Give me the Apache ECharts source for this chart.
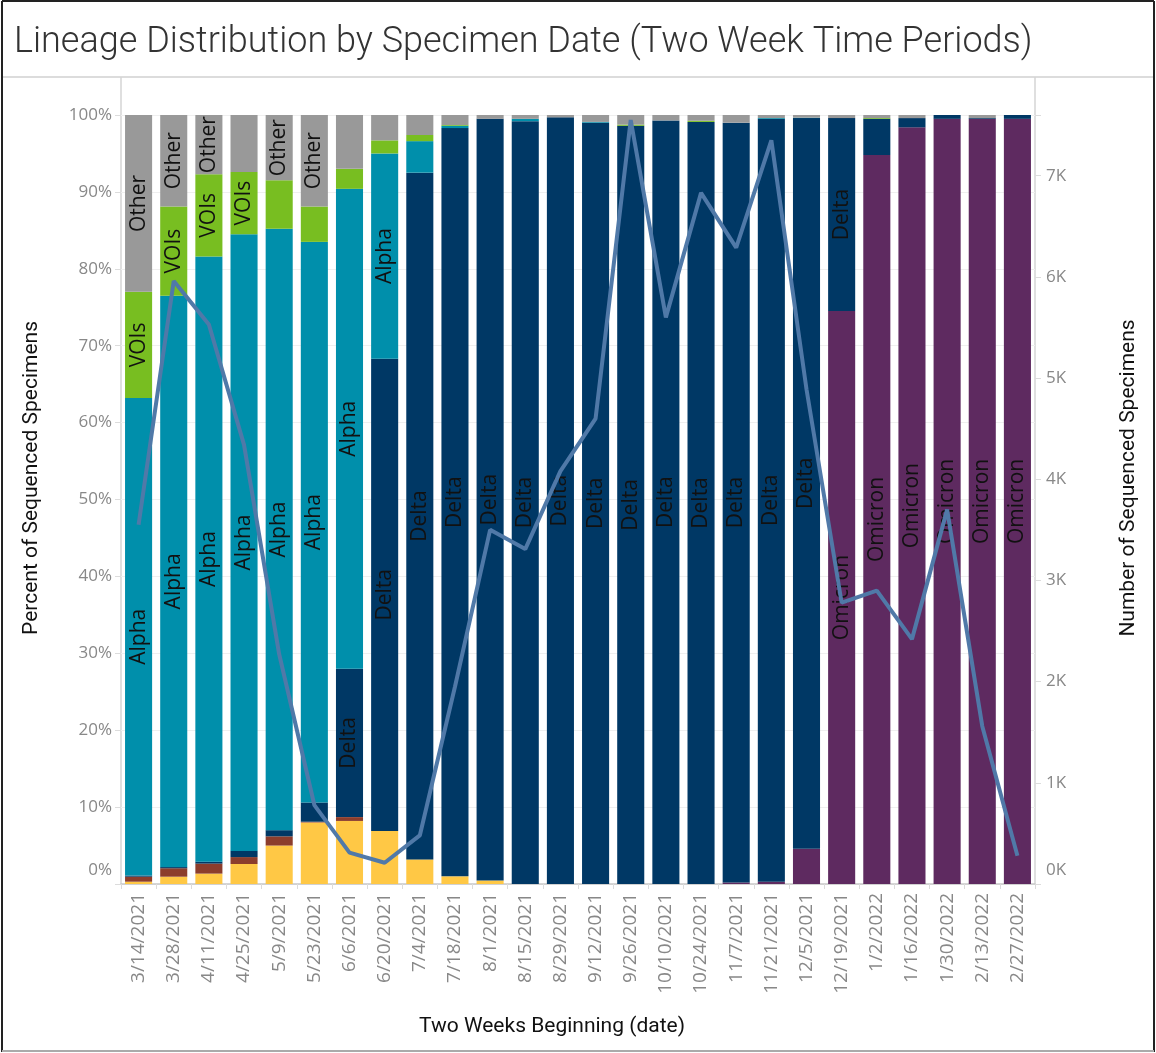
<!DOCTYPE html>
<html>
<head>
<meta charset="utf-8">
<script src="https://cdn.jsdelivr.net/npm/echarts@6/dist/echarts.min.js"></script>
<style>
  html, body { margin: 0; padding: 0; background: #fff; }
  #chart { width: 1156px; height: 1053px; }
</style>
</head>
<body>
<div id="chart"></div>
<script>
// Two-week periods (start date)
const dates = ['3/14/2021','3/28/2021','4/11/2021','4/25/2021','5/9/2021','5/23/2021','6/6/2021','6/20/2021',
  '7/4/2021','7/18/2021','8/1/2021','8/15/2021','8/29/2021','9/12/2021','9/26/2021','10/10/2021','10/24/2021',
  '11/7/2021','11/21/2021','12/5/2021','12/19/2021','1/2/2022','1/16/2022','1/30/2022','2/13/2022','2/27/2022'];

// Share of sequenced specimens by lineage (%), stacked bottom to top
const omicron = [0,0,0,0,0,0,0,0,0,0,0,0,0,0,0,0,0,0.2,0.3,4.6,74.5,94.8,98.4,99.5,99.5,99.5];
const gamma   = [0.3,0.95,1.35,2.6,5.0,8.0,8.2,6.9,3.2,1.0,0.45,0,0,0,0,0,0,0,0,0,0,0,0,0,0,0];
const beta    = [0.65,1.1,1.3,0.9,1.2,0.1,0.5,0,0,0,0,0,0,0,0,0,0,0,0,0,0,0,0,0,0,0];
const delta   = [0.15,0.15,0.25,0.8,0.8,2.5,19.3,61.4,89.3,97.3,99.05,99.2,99.7,99.0,98.6,99.3,99.1,98.8,99.2,95.0,25.1,4.7,1.2,0.5,0.1,0.5];
const alpha   = [62.1,74.3,78.7,80.2,78.2,72.9,62.4,26.7,4.1,0.3,0,0.3,0,0.1,0,0,0,0,0.1,0.05,0,0,0,0,0,0];
const vois    = [13.8,11.6,10.7,8.1,6.3,4.6,2.6,1.7,0.8,0.1,0,0,0,0,0.15,0,0.15,0,0,0,0,0.1,0,0,0,0];
const other   = [23.0,11.9,7.7,7.4,8.5,11.9,7.0,3.3,2.6,1.3,0.5,0.5,0.3,0.9,1.25,0.7,0.75,1.0,0.4,0.35,0.4,0.4,0.4,0,0.4,0];

// Number of sequenced specimens per period
const specimenCount = [3550,5960,5530,4340,2270,780,310,210,480,1950,3500,3310,4080,4600,7550,5600,6830,6290,7350,4890,2780,2900,2420,3700,1560,280];

// Axis ticks
const pctTicks = [0,10,20,30,40,50,60,70,80,90,100];
const countTicks = [0,1000,2000,3000,4000,5000,6000,7000];

// labelled: whether the lineage name is written inside its segments
const lineages = [
  { name: 'Omicron', data: omicron, color: '#5e2a60', labelled: true },
  { name: 'Gamma',   data: gamma,   color: '#ffc845', labelled: false },
  { name: 'Beta',    data: beta,    color: '#8c3d2c', labelled: false },
  { name: 'Delta',   data: delta,   color: '#003865', labelled: true },
  { name: 'Alpha',   data: alpha,   color: '#008fab', labelled: true },
  { name: 'VOIs',    data: vois,    color: '#78be21', labelled: true },
  { name: 'Other',   data: other,   color: '#999999', labelled: true }
];

const LABEL_MIN = 7.5; // segments smaller than this get no text
const tickFont = 'Open Sans, sans-serif';
const textFont = 'Roboto, sans-serif';

const barSeries = lineages.map(l => ({
  name: l.name,
  type: 'bar',
  stack: 'share',
  yAxisIndex: 0,
  barWidth: '77%',
  itemStyle: { color: l.color },
  label: {
    show: false,
    position: 'inside',
    rotate: 90,
    formatter: l.name,
    color: '#111',
    fontSize: 21,
    fontFamily: tickFont
  },
  emphasis: { disabled: true },
  data: l.data.map(v => ({ value: v, label: { show: l.labelled && v >= LABEL_MIN } }))
}));

const chart = echarts.init(document.getElementById('chart'), null, { renderer: 'canvas' });

chart.setOption({
  animation: false,
  backgroundColor: '#fff',
  title: {
    text: 'Lineage Distribution by Specimen Date (Two Week Time Periods)',
    left: 9,
    top: 20,
    textStyle: { fontSize: 36, fontWeight: 300, color: '#333', fontFamily: textFont }
  },
  grid: { left: 121, right: 121, top: 115, bottom: 169 },
  xAxis: {
    type: 'category',
    data: dates,
    axisLine: { lineStyle: { color: '#c8c8c8', width: 1.5 } },
    axisTick: { show: true, length: 5, lineStyle: { color: '#dcdcdc' } },
    axisLabel: { interval: 0, rotate: 90, color: '#888', fontSize: 19, fontFamily: tickFont, margin: 9 }
  },
  yAxis: [
    {
      type: 'value', min: 0, max: 100, interval: 10,
      axisLine: { show: false },
      axisTick: { show: true, length: 6, lineStyle: { color: '#dcdcdc' } },
      splitLine: { lineStyle: { color: '#efefef' } },
      axisLabel: {
        color: '#888', fontSize: 17, fontFamily: tickFont, margin: 9,
        formatter: v => pctTicks.includes(v) ? (v === 0 ? '{z|0%}' : v + '%') : '',
        rich: { z: { color: '#888', fontSize: 17, fontFamily: tickFont, padding: [0, 0, 28, 0] } }
      }
    },
    {
      type: 'value', min: 0, max: 7600, interval: 1000,
      axisLine: { show: false },
      axisTick: { show: true, length: 6, lineStyle: { color: '#dcdcdc' } },
      splitLine: { show: false },
      axisLabel: {
        color: '#888', fontSize: 17, fontFamily: tickFont, margin: 11,
        formatter: v => countTicks.includes(v) ? (v === 0 ? '{z|0K}' : (v / 1000) + 'K') : '',
        rich: { z: { color: '#888', fontSize: 17, fontFamily: tickFont, padding: [0, 0, 28, 0] } }
      }
    }
  ],
  series: barSeries.concat([{
    name: 'Number of Sequenced Specimens',
    type: 'line',
    yAxisIndex: 1,
    data: specimenCount,
    symbol: 'none',
    z: 10,
    lineStyle: { color: '#5079a8', width: 4 },
    emphasis: { disabled: true }
  }]),
  graphic: [
    // outer frame
    { type: 'line', shape: { x1: 2, y1: 1, x2: 1154, y2: 1 }, style: { stroke: '#222', lineWidth: 2 } },
    { type: 'line', shape: { x1: 2, y1: 1, x2: 2, y2: 1052 }, style: { stroke: '#222', lineWidth: 2 } },
    { type: 'line', shape: { x1: 1154, y1: 1, x2: 1154, y2: 1052 }, style: { stroke: '#222', lineWidth: 2 } },
    { type: 'line', shape: { x1: 2, y1: 1051, x2: 1154, y2: 1051 }, style: { stroke: '#aaa', lineWidth: 2 } },
    // divider under the title
    { type: 'line', shape: { x1: 3, y1: 77, x2: 1153, y2: 77 }, style: { stroke: '#d0d0d0', lineWidth: 1.5 } },
    // pane edges for the two value axes
    { type: 'line', shape: { x1: 121, y1: 77, x2: 121, y2: 884 }, style: { stroke: '#d4d4d4', lineWidth: 1.5 } },
    { type: 'line', shape: { x1: 1035, y1: 77, x2: 1035, y2: 884 }, style: { stroke: '#d4d4d4', lineWidth: 1.5 } },
    // axis titles
    { type: 'text', x: 32, y: 478, rotation: Math.PI / 2,
      style: { text: 'Percent of Sequenced Specimens', align: 'center', verticalAlign: 'middle',
               fill: '#111', fontSize: 21, fontFamily: textFont } },
    { type: 'text', x: 1129, y: 478, rotation: Math.PI / 2,
      style: { text: 'Number of Sequenced Specimens', align: 'center', verticalAlign: 'middle',
               fill: '#111', fontSize: 21, fontFamily: textFont } },
    { type: 'text', x: 552, y: 1027,
      style: { text: 'Two Weeks Beginning (date)', align: 'center', verticalAlign: 'middle',
               fill: '#111', fontSize: 21, fontFamily: textFont } }
  ]
});
</script>
</body>
</html>
